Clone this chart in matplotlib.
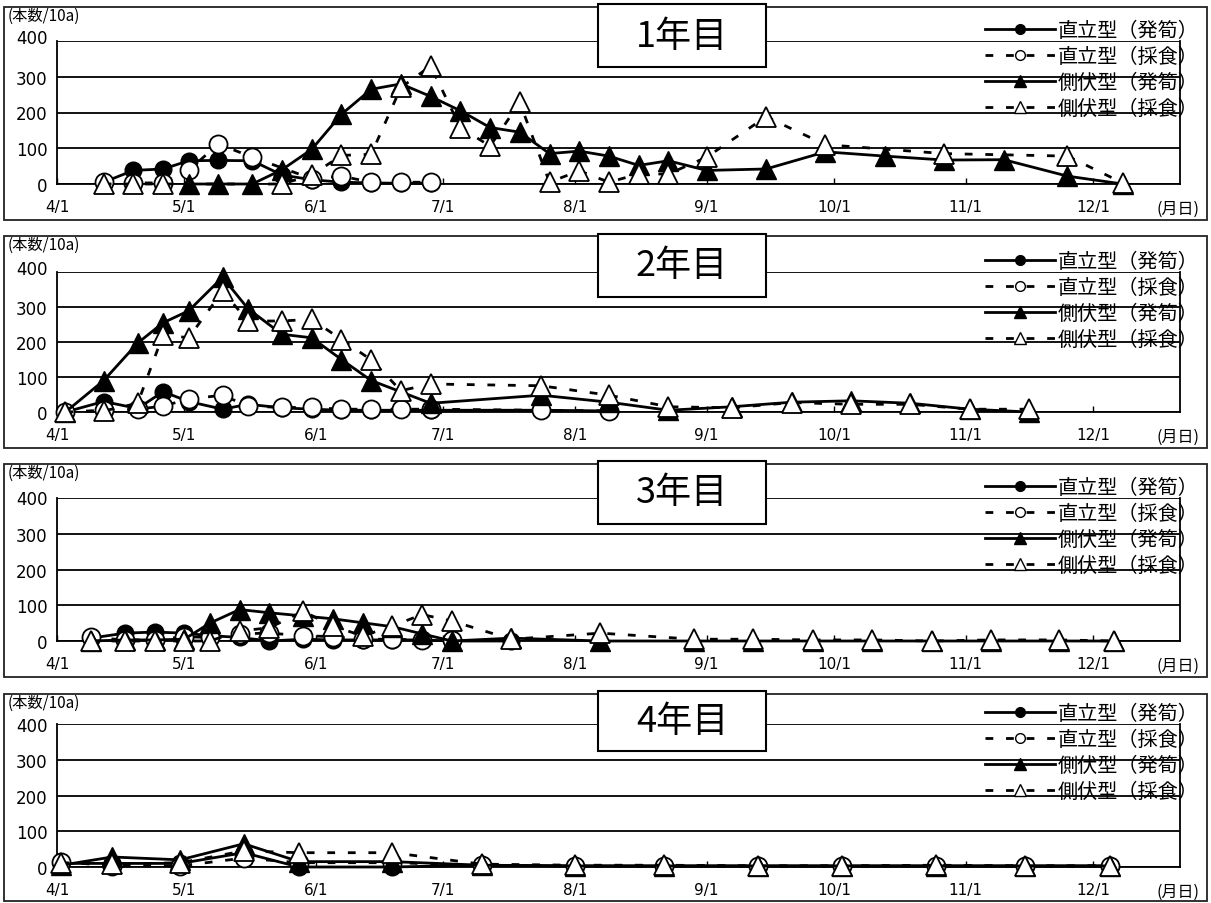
import datetime as dt
import matplotlib
matplotlib.use('Agg')
import matplotlib.pyplot as plt
from matplotlib.lines import Line2D
from matplotlib.patches import Rectangle
import matplotlib.transforms as mtransforms

plt.rcParams['font.family'] = ['Noto Sans CJK JP', 'DejaVu Sans']

# ------------------------------------------------------------------ data
series_labels = ['直立型（発筍）', '直立型（採食）', '側伏型（発筍）', '側伏型（採食）']
panel_titles = ['1年目', '2年目', '3年目', '4年目']
month_ticks = ['4/1', '5/1', '6/1', '7/1', '8/1', '9/1', '10/1', '11/1', '12/1']
y_ticks = [0, 100, 200, 300, 400]
unit_label = '(本数/10a)'
x_unit_label = '(月日)'

# Year 1
y1_erect_shoot_dates = ['4/12', '4/19', '4/26', '5/2', '5/9', '5/17', '5/24', '5/31', '6/7', '6/14', '6/21', '6/28']
y1_erect_shoot_vals = [5, 38, 42, 65, 66, 65, 25, 12, 5, 3, 2, 2]
y1_erect_eaten_dates = ['4/12', '4/19', '4/26', '5/2', '5/9', '5/17', '5/31', '6/7', '6/14', '6/21', '6/28']
y1_erect_eaten_vals = [5, 3, 3, 38, 112, 75, 15, 22, 5, 5, 5]
y1_prone_shoot_dates = ['5/2', '5/9', '5/17', '5/24', '5/31', '6/7', '6/14', '6/21', '6/28', '7/5', '7/12',
                        '7/19', '7/26', '8/2', '8/9', '8/16', '8/23', '9/1', '9/15', '9/29', '10/13', '10/27',
                        '11/10', '11/25', '12/8']
y1_prone_shoot_vals = [0, 0, 0, 40, 97, 195, 265, 280, 245, 205, 158, 145, 85, 92, 78, 52, 65, 38, 42, 90, 78,
                       67, 68, 22, 0]
y1_prone_eaten_dates = ['4/12', '4/19', '4/26', '5/24', '5/31', '6/7', '6/14', '6/21', '6/28', '7/5', '7/12',
                        '7/19', '7/26', '8/2', '8/9', '8/16', '8/23', '9/1', '9/15', '9/29', '10/27', '11/25',
                        '12/8']
y1_prone_eaten_vals = [0, 0, 0, 0, 25, 80, 83, 270, 330, 158, 106, 228, 5, 37, 5, 28, 28, 75, 188, 110, 85, 78, 3]

# Year 2
y2_erect_shoot_dates = ['4/3', '4/12', '4/20', '4/26', '5/2', '5/10', '5/16', '5/24', '5/31', '6/7', '6/14',
                        '6/28', '7/24', '8/9']
y2_erect_shoot_vals = [0, 30, 10, 58, 30, 8, 22, 12, 8, 5, 5, 5, 5, 3]
y2_erect_eaten_dates = ['4/3', '4/12', '4/20', '4/26', '5/2', '5/10', '5/16', '5/24', '5/31', '6/7', '6/14',
                        '6/21', '6/28', '7/24', '8/9']
y2_erect_eaten_vals = [0, 5, 8, 17, 37, 48, 17, 13, 13, 8, 8, 8, 8, 5, 3]
y2_prone_shoot_dates = ['4/3', '4/12', '4/20', '4/26', '5/2', '5/10', '5/16', '5/24', '5/31', '6/7', '6/14',
                        '6/28', '7/24', '8/9', '8/23', '9/7', '9/21', '10/5', '10/19', '11/2', '11/16']
y2_prone_shoot_vals = [0, 90, 197, 255, 289, 385, 295, 222, 212, 150, 90, 25, 48, 28, 5, 15, 28, 32, 25, 8, 0]
y2_prone_eaten_dates = ['4/3', '4/12', '4/20', '4/26', '5/2', '5/10', '5/16', '5/24', '5/31', '6/7', '6/14',
                        '6/21', '6/28', '7/24', '8/9', '8/23', '9/7', '9/21', '10/5', '10/19', '11/2', '11/16']
y2_prone_eaten_vals = [0, 3, 25, 221, 212, 345, 260, 260, 265, 207, 149, 61, 80, 75, 48, 15, 12, 27, 22, 22, 8, 8]

# Year 3
y3_erect_shoot_dates = ['4/9', '4/17', '4/24', '5/1', '5/7', '5/14', '5/21', '5/29', '6/5', '6/12', '6/19',
                        '6/26', '7/3', '7/17']
y3_erect_shoot_vals = [8, 22, 25, 22, 15, 10, 0, 5, 3, 3, 3, 3, 0, 0]
y3_erect_eaten_dates = ['4/9', '4/17', '4/24', '5/1', '5/7', '5/14', '5/21', '5/29', '6/5', '6/12', '6/19',
                        '6/26', '7/3']
y3_erect_eaten_vals = [10, 3, 3, 12, 10, 20, 22, 15, 12, 5, 5, 3, 3]
y3_prone_shoot_dates = ['4/9', '4/17', '4/24', '5/1', '5/7', '5/14', '5/21', '5/29', '6/5', '6/12', '6/19',
                        '6/26', '7/3', '7/17', '8/7', '8/29', '9/12', '9/26', '10/10', '10/24', '11/7',
                        '11/23', '12/6']
y3_prone_shoot_vals = [0, 3, 3, 5, 50, 88, 79, 70, 62, 51, 40, 20, 0, 8, 0, 0, 0, 0, 0, 0, 0, 0, 0]
y3_prone_eaten_dates = ['4/9', '4/17', '4/24', '5/1', '5/7', '5/14', '5/21', '5/29', '6/5', '6/12', '6/19',
                        '6/26', '7/3', '7/17', '8/7', '8/29', '9/12', '9/26', '10/10', '10/24', '11/7',
                        '11/23', '12/6']
y3_prone_eaten_vals = [0, 0, 0, 0, 0, 28, 37, 83, 42, 14, 42, 74, 56, 5, 22, 5, 5, 3, 3, 0, 3, 3, 0]

# Year 4
y4_dates = ['4/2', '4/14', '4/30', '5/15', '5/28', '6/19', '7/10', '8/1', '8/22', '9/13', '10/3', '10/25',
            '11/15', '12/5']
y4_erect_shoot_vals = [10, 10, 10, 40, 0, 0, 5, 3, 3, 3, 3, 3, 3, 3]
y4_erect_eaten_vals = [15, 3, 3, 25, 12, 12, 5, 3, 3, 3, 3, 3, 3, 3]
y4_prone_shoot_vals = [5, 28, 20, 65, 15, 15, 5, 3, 3, 3, 3, 3, 3, 3]
y4_prone_eaten_vals = [12, 8, 12, 45, 40, 40, 8, 5, 5, 3, 3, 5, 3, 3]

panels = [
    [(y1_erect_shoot_dates, y1_erect_shoot_vals), (y1_erect_eaten_dates, y1_erect_eaten_vals),
     (y1_prone_shoot_dates, y1_prone_shoot_vals), (y1_prone_eaten_dates, y1_prone_eaten_vals)],
    [(y2_erect_shoot_dates, y2_erect_shoot_vals), (y2_erect_eaten_dates, y2_erect_eaten_vals),
     (y2_prone_shoot_dates, y2_prone_shoot_vals), (y2_prone_eaten_dates, y2_prone_eaten_vals)],
    [(y3_erect_shoot_dates, y3_erect_shoot_vals), (y3_erect_eaten_dates, y3_erect_eaten_vals),
     (y3_prone_shoot_dates, y3_prone_shoot_vals), (y3_prone_eaten_dates, y3_prone_eaten_vals)],
    [(y4_dates, y4_erect_shoot_vals), (y4_dates, y4_erect_eaten_vals),
     (y4_dates, y4_prone_shoot_vals), (y4_dates, y4_prone_eaten_vals)],
]


def day_of_season(s):
    m, d = (int(v) for v in s.split('/'))
    return (dt.date(2001, m, d) - dt.date(2001, 4, 1)).days


# ------------------------------------------------------------------ layout
W, H = 1211, 904
fig = plt.figure(figsize=(W / 100, H / 100), dpi=100)
fig.patch.set_facecolor('white')


def fx(px):
    return px / W


def fy(py):
    return 1 - py / H


frame_top = [8, 237, 465, 695]
frame_bot = [221, 449, 678, 902]
line400 = [42, 273, 499, 725]
line0 = [185, 413, 642, 868]
title_top = [5, 235, 462, 692]
title_bot = [68, 298, 525, 752]
label400_shift = [5, 5, 1, 0]
PLOT_L, PLOT_R = 57, 1180
X_MAX = 264.5

dash = (0, (2.8, 4.6))
styles = [
    dict(ls='-', marker='o', ms=12, mfc='black', mew=1.0),
    dict(ls=dash, marker='o', ms=13, mfc='white', mew=1.3),
    dict(ls='-', marker='^', ms=15, mfc='black', mew=1.0),
    dict(ls=dash, marker='^', ms=15, mfc='white', mew=1.3),
]
leg_ms = [7, 7, 8, 8]

for i in range(4):
    # panel frame
    fig.add_artist(Rectangle((fx(4), fy(frame_bot[i])), fx(1207) - fx(4), fy(frame_top[i]) - fy(frame_bot[i]),
                             transform=fig.transFigure, fill=False, edgecolor='#222222', lw=1.3, zorder=0.5))

    ax = fig.add_axes([fx(PLOT_L), fy(line0[i]), fx(PLOT_R) - fx(PLOT_L), fy(line400[i]) - fy(line0[i])])
    ax.set_facecolor('none')
    ax.set_xlim(0, X_MAX)
    ax.set_ylim(0, 400)

    for k, (dates, vals) in enumerate(panels[i]):
        st = styles[k]
        ax.plot([day_of_season(s) for s in dates], vals, color='black', lw=2.0, ls=st['ls'],
                marker=st['marker'], markersize=st['ms'], markerfacecolor=st['mfc'],
                markeredgecolor='black', markeredgewidth=st['mew'], clip_on=False, zorder=3 + k)

    ax.set_yticks(y_ticks)
    ax.set_yticklabels([str(v) for v in y_ticks], family='DejaVu Sans', fontsize=12)
    ax.yaxis.grid(True, color='black', lw=1.3)
    ax.set_axisbelow(True)
    ax.tick_params(axis='y', length=0, pad=7)
    tl = ax.get_yticklabels()[-1]
    tl.set_transform(tl.get_transform() + mtransforms.ScaledTranslation(0, label400_shift[i] / 100,
                                                                         fig.dpi_scale_trans))

    ax.set_xticks([day_of_season(s) for s in month_ticks])
    ax.set_xticklabels(month_ticks, family='DejaVu Sans', fontsize=11)
    ax.tick_params(axis='x', direction='in', length=4, width=1, pad=11)

    for side in ['left', 'right', 'bottom']:
        ax.spines[side].set_linewidth(1.3)
    ax.spines['top'].set_visible(False)

    # unit labels
    fig.text(fx(8), fy(frame_top[i] + 8), unit_label, ha='left', va='center', fontsize=11)
    fig.text(fx(1157), fy(line0[i] + 24), x_unit_label, ha='left', va='center', fontsize=11.5)

    # title box
    fig.add_artist(Rectangle((fx(598), fy(title_bot[i])), fx(766) - fx(598), fy(title_top[i]) - fy(title_bot[i]),
                             transform=fig.transFigure, facecolor='white', edgecolor='black', lw=1.5, zorder=20))
    fig.text(fx(682), fy((title_top[i] + title_bot[i]) / 2), panel_titles[i], ha='center', va='center',
             fontsize=26, zorder=21)

    # legend
    handles = [Line2D([], [], color='black', lw=2.0, ls=styles[k]['ls'], marker=styles[k]['marker'],
                      markersize=leg_ms[k], markerfacecolor=styles[k]['mfc'], markeredgecolor='black',
                      markeredgewidth=1.0) for k in range(4)]
    leg = ax.legend(handles, series_labels, loc='upper left',
                    bbox_to_anchor=(fx(985), fy(line400[i] - 21)), bbox_transform=fig.transFigure,
                    frameon=False, fontsize=14.5, handlelength=3.5, handletextpad=0.1,
                    labelspacing=0.25, borderpad=0, borderaxespad=0)
    leg.set_zorder(30)

fig.savefig('out.png', dpi=100, facecolor='white')
